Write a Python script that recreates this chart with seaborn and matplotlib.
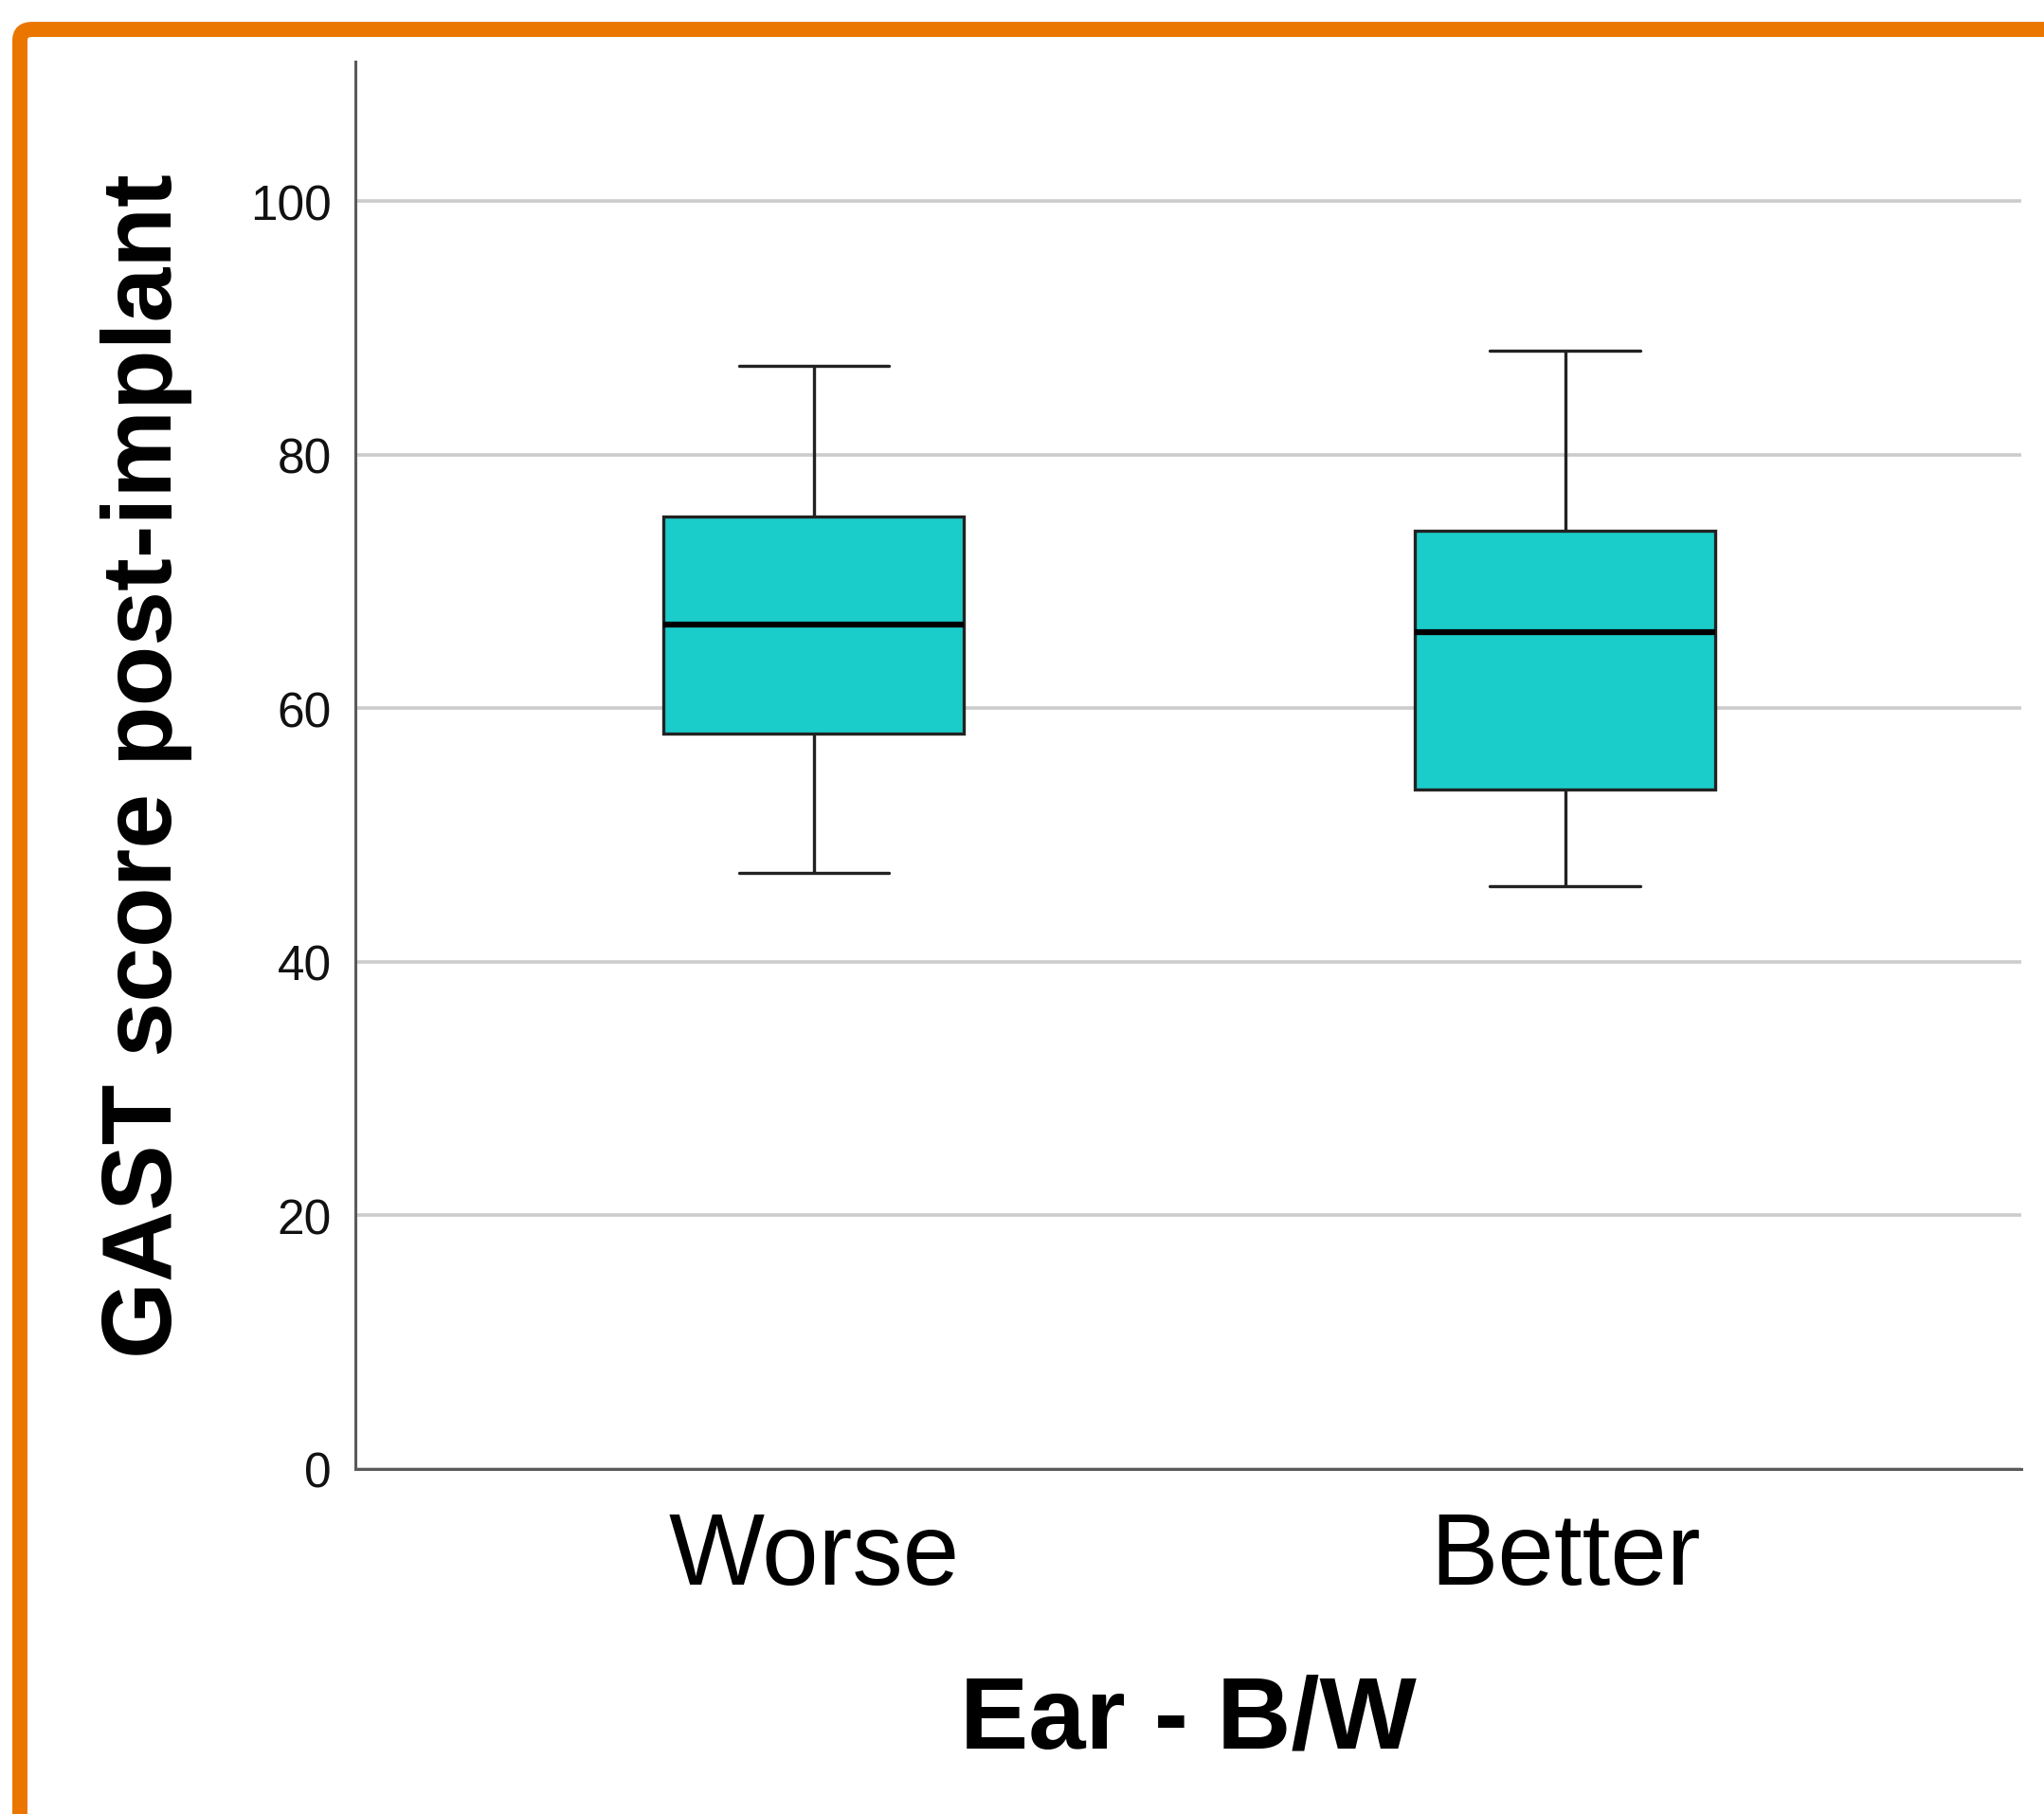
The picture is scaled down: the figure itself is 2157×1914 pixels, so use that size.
import pandas as pd
import matplotlib.pyplot as plt
import seaborn as sns
from matplotlib.patches import FancyBboxPatch

"GAST score post-implant por orelha (pior / melhor)"

# five-number summaries (min, Q1, median, Q3, max)
worse = [47.0, 58.0, 66.6, 75.1, 87.0]
better = [46.0, 53.6, 66.0, 74.0, 88.2]
groups = ['Worse', 'Better']
y_ticks = [0, 20, 40, 60, 80, 100]

schedule = pd.DataFrame({
    'Ear - B/W': ['Worse'] * len(worse) + ['Better'] * len(better),
    'GAST score post-implant': worse + better,
})

sns.set_style('white')
plt.rcParams['font.family'] = ['Liberation Sans', 'DejaVu Sans']

fig = plt.figure(figsize=(21.57, 19.15), dpi=100)
ax = fig.add_axes([0.1739, 0.1901, 0.815, 0.7754])

ax.set_axisbelow(True)
ax.yaxis.grid(True, color='#cccccc', linewidth=2.6)

sns.boxplot(data=schedule, x='Ear - B/W', y='GAST score post-implant', order=groups,
            color='#1bcdca', saturation=1, width=0.4, linecolor='#222222', linewidth=2.4,
            medianprops={'color': 'black', 'linewidth': 4.5}, ax=ax)

ax.set_xlim(-0.61, 1.607)
ax.set_ylim(0, 111)
ax.set_yticks(y_ticks)

for side in ['top', 'right']:
    ax.spines[side].set_visible(False)
for side in ['left', 'bottom']:
    ax.spines[side].set_color('#5a5a5a')
    ax.spines[side].set_linewidth(2.2)

ax.tick_params(axis='y', length=0, pad=18, labelsize=37, labelcolor='#111111')
ax.tick_params(axis='x', length=0, pad=31, labelsize=77, labelcolor='black')

ax.set_xlabel('Ear - B/W', fontsize=78, fontweight='bold', labelpad=52, color='black')
ax.set_ylabel('GAST score post-implant', fontsize=75, fontweight='bold', labelpad=44, color='black')

# moldura laranja (cortada à direita e embaixo)
frame = FancyBboxPatch((21 / 2157, -0.05), 1.1, 1.05 - 32 / 1915,
                       boxstyle='round,pad=0,rounding_size=0.006',
                       transform=fig.transFigure, fill=False,
                       edgecolor='#ea7600', linewidth=11.5, clip_on=False)
fig.patches.append(frame)

plt.savefig('out.png', dpi=100)
plt.close()
